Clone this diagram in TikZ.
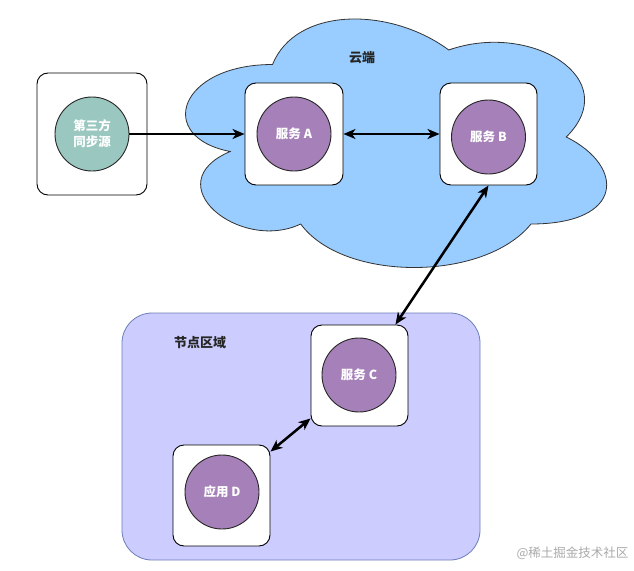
\documentclass[tikz,border=0pt]{standalone}
\usepackage{fontspec}
\setmainfont{Liberation Sans}
\newfontfamily\cjk{Noto Sans CJK SC}
\usetikzlibrary{arrows.meta,positioning}
\definecolor{cloudfill}{HTML}{99CCFF}
\definecolor{regionfill}{HTML}{CCCCFF}
\definecolor{regionline}{HTML}{6C7FB8}
\definecolor{purplefill}{HTML}{A680B8}
\definecolor{tealfill}{HTML}{9AC7BF}
\definecolor{wmgray}{HTML}{AAAAAA}
\tikzset{
  card/.style={draw=black, fill=white, rounded corners=11pt, line width=0.9pt, inner sep=0pt},
  svc/.style={circle, draw=black!85, fill=purplefill, line width=0.9pt, minimum size=74pt, inner sep=0pt,
    text=white, font=\cjk\bfseries\fontsize{12.5}{16}\selectfont, align=center},
  src/.style={svc, fill=tealfill},
  title/.style={font=\cjk\bfseries\fontsize{13}{16}\selectfont, text=black!85},
  link/.style={line width=2.5pt, black},
  tip/.style={-{Stealth[length=12pt,width=10pt,inset=3.5pt]}},
  dtip/.style={{Stealth[length=12pt,width=10pt,inset=3.5pt]}-{Stealth[length=12pt,width=10pt,inset=3.5pt]}}
}
\begin{document}
\begin{tikzpicture}[x=1pt,y=-1pt]
\useasboundingbox (0,0) rectangle (634,570);
\fill[white] (0,0) rectangle (634,570);
% cloud
\draw[fill=cloudfill, draw=black!80, line width=0.8pt]
  (272.5,64.5)
  .. controls (178.5,64.5) and (155,137) .. (230.2,151.5)
  .. controls (155,183.4) and (239.6,253) .. (300.7,224)
  .. controls (343,282) and (484,282) .. (531,224)
  .. controls (625,224) and (625,166) .. (566.25,137)
  .. controls (625,79) and (531,21) .. (448.75,50)
  .. controls (390,6.5) and (296,6.5) .. (272.5,64.5) -- cycle;
\node[title] (cloudlbl) at (362,58) {云端};
% node region
\draw[fill=regionfill, draw=regionline, line width=0.8pt, rounded corners=30pt] (122,313) rectangle (480,560);
\node[title] (regionlbl) at (200,343) {节点区域};
% cards
\node[card, minimum width=110pt, minimum height=122pt] (Tbox) at (92,134) {};
\node[card, minimum width=98pt, minimum height=102pt] (Abox) at (294,134) {};
\node[card, minimum width=97pt, minimum height=102pt] (Bbox) at (488.5,134) {};
\node[card, minimum width=97pt, minimum height=101pt] (Cbox) at (359.5,375.5) {};
\node[card, minimum width=97pt, minimum height=101pt] (Dbox) at (221.5,495.5) {};
% circles
\node[src] (T) at (92,134) {第三方\\同步源};
\node[svc] (A) at (294,134) {服务 A};
\node[svc] (B) at (488.5,137) {服务 B};
\node[svc] (C) at (359,375) {服务 C};
\node[svc] (D) at (222,492) {应用 D};
% connectors
\draw[link, tip] (T.east) -- (Abox.west);
\draw[link, dtip] (Abox.east) -- (Bbox.west);
\draw[link, dtip] (Bbox.south) -- ([xshift=-13pt]Cbox.north east);
\draw[link, dtip] ([yshift=8pt]Cbox.south west) -- ([yshift=-7pt]Dbox.north east);
% watermark
\node[anchor=east, text=wmgray, font=\cjk\fontsize{12.5}{15}\selectfont] (wm) at (632,553) {@稀土掘金技术社区};
\end{tikzpicture}
\end{document}
